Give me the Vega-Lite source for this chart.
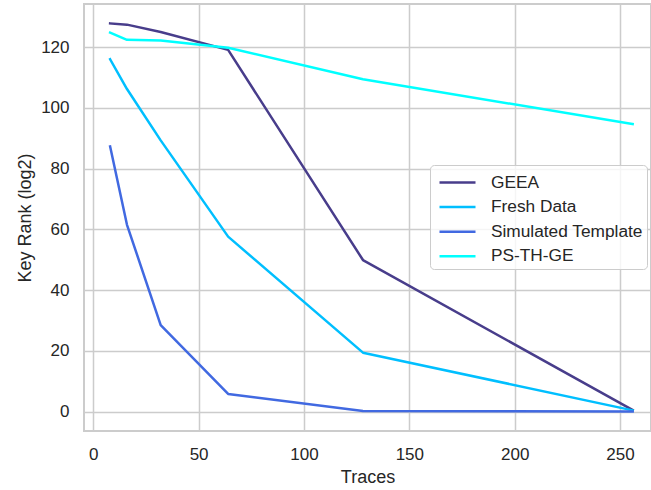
{
  "$schema": "https://vega.github.io/schema/vega-lite/v6.json",
  "autosize": {"type": "none"},
  "padding": {"left": 84, "top": 4, "right": 0, "bottom": 59},
  "width": 567,
  "height": 427,
  "background": "white",
  "config": {
    "font": "Liberation Sans",
    "view": {"stroke": "#cccccc", "strokeWidth": 2},
    "axis": {
      "domain": false,
      "ticks": false,
      "grid": true,
      "gridColor": "#cccccc",
      "gridWidth": 1.5,
      "labelFont": "Liberation Sans",
      "labelFontSize": 17,
      "labelColor": "#262626",
      "labelPadding": 15,
      "titleFont": "Liberation Sans",
      "titleFontSize": 18,
      "titleFontWeight": "normal",
      "titleColor": "#262626"
    },
    "legend": {
      "labelFont": "Liberation Sans",
      "labelFontSize": 17.3,
      "labelColor": "#262626"
    }
  },
  "data": {
    "values": [
      {"traces": 8, "rank": 127.8, "method": "GEEA"},
      {"traces": 16, "rank": 127.4, "method": "GEEA"},
      {"traces": 32, "rank": 125.0, "method": "GEEA"},
      {"traces": 64, "rank": 119.1, "method": "GEEA"},
      {"traces": 128, "rank": 49.9, "method": "GEEA"},
      {"traces": 256, "rank": 0.5, "method": "GEEA"},
      {"traces": 8, "rank": 116.0, "method": "Fresh Data"},
      {"traces": 16, "rank": 106.2, "method": "Fresh Data"},
      {"traces": 32, "rank": 89.3, "method": "Fresh Data"},
      {"traces": 64, "rank": 57.6, "method": "Fresh Data"},
      {"traces": 128, "rank": 19.4, "method": "Fresh Data"},
      {"traces": 256, "rank": 0.4, "method": "Fresh Data"},
      {"traces": 8, "rank": 87.3, "method": "Simulated Template"},
      {"traces": 16, "rank": 61.5, "method": "Simulated Template"},
      {"traces": 32, "rank": 28.5, "method": "Simulated Template"},
      {"traces": 64, "rank": 5.8, "method": "Simulated Template"},
      {"traces": 128, "rank": 0.2, "method": "Simulated Template"},
      {"traces": 256, "rank": 0.0, "method": "Simulated Template"},
      {"traces": 8, "rank": 124.8, "method": "PS-TH-GE"},
      {"traces": 16, "rank": 122.4, "method": "PS-TH-GE"},
      {"traces": 32, "rank": 122.2, "method": "PS-TH-GE"},
      {"traces": 64, "rank": 119.8, "method": "PS-TH-GE"},
      {"traces": 128, "rank": 109.4, "method": "PS-TH-GE"},
      {"traces": 256, "rank": 94.7, "method": "PS-TH-GE"}
    ]
  },
  "mark": {"type": "line", "strokeWidth": 2.5, "strokeCap": "square", "strokeJoin": "round"},
  "encoding": {
    "x": {
      "field": "traces",
      "type": "quantitative",
      "title": "Traces",
      "scale": {"domain": [-4.4, 264.7], "nice": false, "zero": false},
      "axis": {"values": [0, 50, 100, 150, 200, 250], "titlePadding": 6}
    },
    "y": {
      "field": "rank",
      "type": "quantitative",
      "title": "Key Rank (log2)",
      "scale": {"domain": [-6.39, 134.2], "nice": false, "zero": false},
      "axis": {"values": [0, 20, 40, 60, 80, 100, 120], "titlePadding": 6}
    },
    "color": {
      "field": "method",
      "type": "nominal",
      "sort": null,
      "scale": {
        "domain": ["GEEA", "Fresh Data", "Simulated Template", "PS-TH-GE"],
        "range": ["#483D8B", "#00BFFF", "#4169E1", "#00FFFF"]
      },
      "legend": {
        "title": null,
        "orient": "none",
        "legendX": 346,
        "legendY": 161,
        "symbolType": "M-1.5,0H1.5",
        "symbolSize": 576,
        "symbolStrokeWidth": 2.5,
        "symbolOffset": 10,
        "labelOffset": 20,
        "rowPadding": 2.6,
        "padding": 4,
        "strokeColor": "#cccccc",
        "fillColor": "rgba(255,255,255,0.8)",
        "cornerRadius": 4
      }
    }
  }
}
